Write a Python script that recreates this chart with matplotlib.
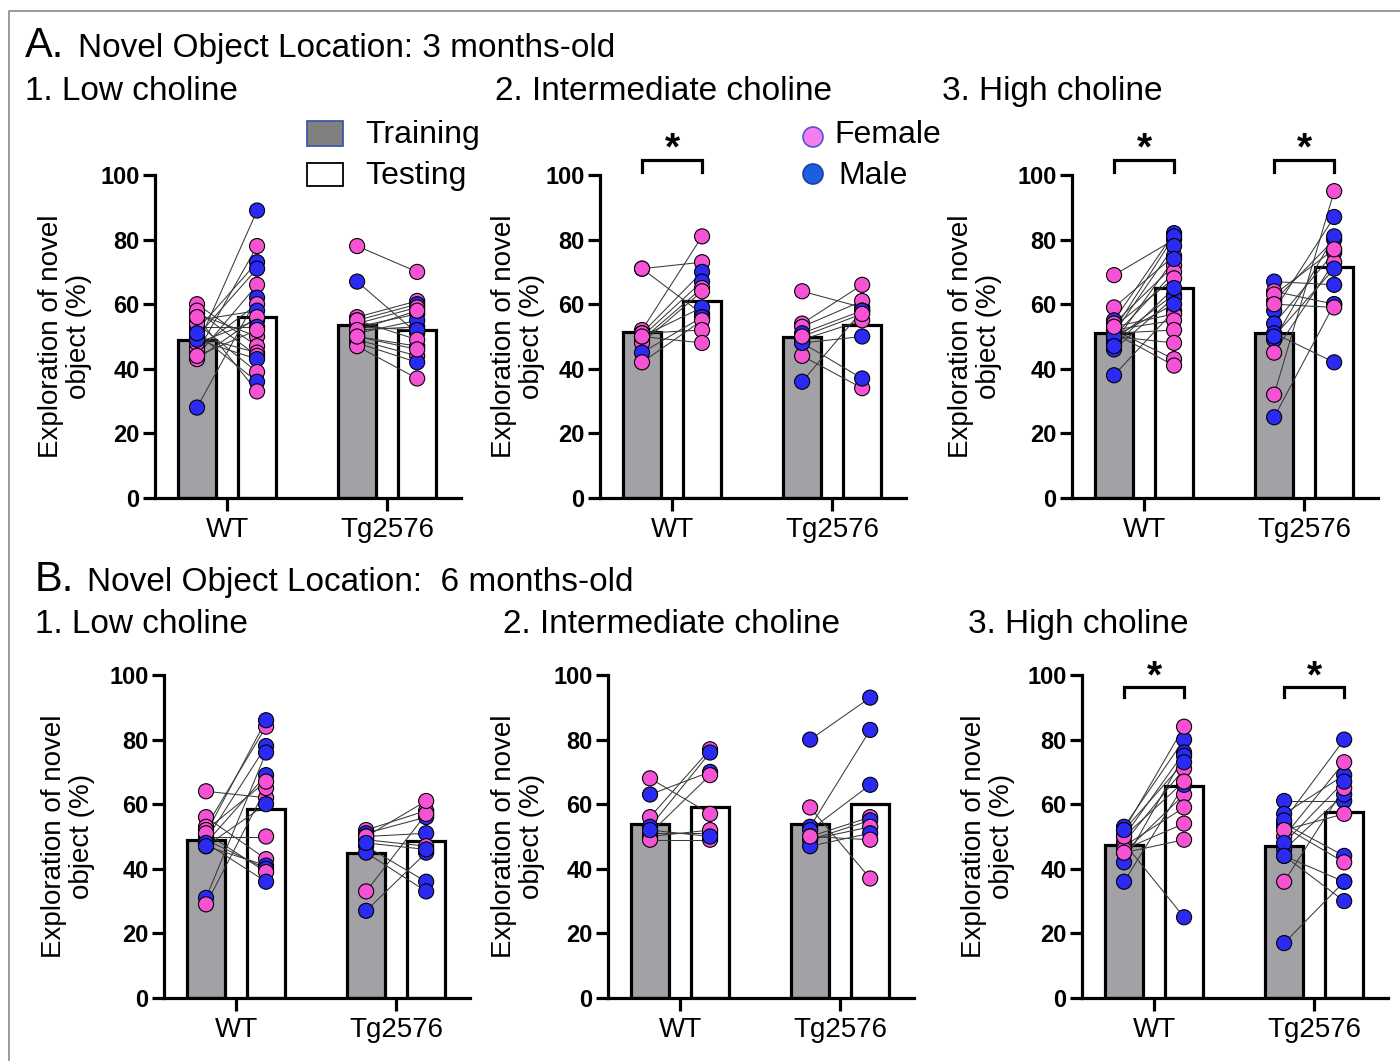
import matplotlib
matplotlib.use("Agg")
import matplotlib.pyplot as plt
from matplotlib.patches import Rectangle, Circle

plt.rcParams['font.family'] = ['Liberation Sans', 'DejaVu Sans']

# ---- data: % exploration of novel object, paired training -> testing ----
groups = ["WT", "Tg2576"]

# bar heights (group means): WT train, WT test, Tg train, Tg test
a1_means = [49, 56, 53.5, 52]
a2_means = [51.5, 61, 49.7, 53.6]
a3_means = [51, 65, 51, 71.5]
b1_means = [49, 58.5, 45, 48.5]
b2_means = [53.8, 59, 53.8, 60]
b3_means = [47.5, 65.5, 47, 57.5]

# A1 - low choline, 3 months
a1_wt_train = [47, 45, 52, 50, 44, 28, 46, 55, 48, 43, 53, 57, 60, 50, 58, 49, 54, 51, 56, 44]
a1_wt_test = [89, 78, 73, 71, 66, 62, 60, 58, 55, 56, 53, 50, 47, 45, 44, 43, 39, 36, 33, 52]
a1_wt_sex = ['M', 'F', 'M', 'M', 'F', 'M', 'F', 'M', 'F', 'F', 'M', 'F', 'F', 'F', 'F', 'M', 'F', 'M', 'F', 'F']
a1_tg_train = [78, 67, 56, 55, 54, 53, 52, 51, 50, 49, 48, 47, 53, 55, 52, 50]
a1_tg_test = [70, 51, 61, 60, 59, 57, 53, 55, 47, 44, 42, 37, 52, 49, 58, 46]
a1_tg_sex = ['F', 'M', 'F', 'M', 'F', 'M', 'F', 'M', 'M', 'F', 'M', 'F', 'M', 'F', 'F', 'F']

# A2 - intermediate choline, 3 months
a2_wt_train = [71, 71, 52, 51, 50, 49, 48, 50, 45, 42, 51, 50]
a2_wt_test = [73, 57, 81, 70, 67, 65, 64, 59, 56, 55, 52, 48]
a2_wt_sex = ['F', 'F', 'F', 'M', 'M', 'F', 'F', 'M', 'M', 'F', 'F', 'F']
a2_tg_train = [64, 54, 53, 51, 49, 48, 44, 36, 48, 50]
a2_tg_test = [59, 66, 61, 58, 55, 50, 34, 58, 37, 57]
a2_tg_sex = ['F', 'F', 'F', 'M', 'F', 'M', 'F', 'M', 'M', 'F']

# A3 - high choline, 3 months
a3_wt_train = [69, 59, 55, 54, 52, 51, 50, 49, 46, 38, 53, 52, 51, 50, 52, 51, 48, 50, 53, 47]
a3_wt_test = [80, 75, 82, 72, 81, 78, 70, 63, 62, 58, 57, 55, 52, 48, 43, 41, 74, 60, 68, 65]
a3_wt_sex = ['F', 'F', 'M', 'F', 'M', 'M', 'F', 'M', 'M', 'M', 'F', 'F', 'F', 'F', 'F', 'F', 'M', 'M', 'F', 'M']
a3_tg_train = [67, 64, 61, 58, 54, 51, 49, 45, 32, 25, 63, 50, 60]
a3_tg_test = [66, 60, 80, 87, 76, 42, 81, 73, 95, 60, 77, 71, 59]
a3_tg_sex = ['M', 'F', 'M', 'M', 'M', 'M', 'M', 'F', 'F', 'M', 'F', 'M', 'F']

# B1 - low choline, 6 months
b1_wt_train = [64, 56, 53, 51, 49, 48, 47, 31, 29, 52, 50, 49, 51, 48, 47]
b1_wt_test = [62, 43, 84, 86, 78, 69, 41, 76, 65, 67, 50, 40, 39, 36, 60]
b1_wt_sex = ['F', 'F', 'F', 'M', 'M', 'M', 'M', 'M', 'F', 'F', 'F', 'M', 'F', 'M', 'M']
b1_tg_train = [52, 51, 50, 49, 47, 45, 33, 27, 50, 48]
b1_tg_test = [58, 56, 51, 47, 36, 33, 57, 45, 61, 46]
b1_tg_sex = ['F', 'M', 'M', 'F', 'M', 'M', 'F', 'M', 'F', 'M']

# B2 - intermediate choline, 6 months
b2_wt_train = [68, 63, 56, 53, 51, 51, 50, 49, 52]
b2_wt_test = [57, 70, 77, 76, 69, 51, 52, 49, 50]
b2_wt_sex = ['F', 'M', 'F', 'M', 'F', 'M', 'F', 'F', 'M']
b2_tg_train = [80, 59, 53, 52, 50, 49, 49, 47, 50]
b2_tg_test = [93, 37, 83, 66, 56, 55, 53, 51, 49]
b2_tg_sex = ['M', 'F', 'M', 'M', 'F', 'M', 'F', 'M', 'F']

# B3 - high choline, 6 months
b3_wt_train = [53, 52, 50, 48, 45, 42, 36, 48, 47, 46, 45, 50, 52]
b3_wt_test = [80, 84, 76, 71, 63, 75, 66, 25, 59, 54, 49, 67, 73]
b3_wt_sex = ['M', 'F', 'M', 'F', 'F', 'M', 'M', 'M', 'F', 'F', 'F', 'F', 'M']
b3_tg_train = [61, 57, 54, 53, 50, 46, 44, 36, 17, 55, 52, 48, 44]
b3_tg_test = [61, 69, 44, 42, 73, 63, 36, 65, 36, 80, 57, 67, 30]
b3_tg_sex = ['M', 'M', 'M', 'F', 'F', 'M', 'M', 'F', 'M', 'M', 'F', 'M', 'M']

# ---- styling ----
PINK = '#F552D4'
BLUE = '#2A2AF2'
BAR_GRAY = '#A2A2A6'
W, H = 1400, 1061

fig = plt.figure(figsize=(W / 100, H / 100), dpi=100)

# overlay in pixel coordinates for headings / legend / frame
bg = fig.add_axes([0, 0, 1, 1])
bg.set_xlim(0, W)
bg.set_ylim(H, 0)
bg.axis('off')
bg.plot([9, 9, W], [H, 11, 11], color='#8a8a8a', lw=1.2)

TS = 24
bg.text(25, 57, "A.", fontsize=30)
bg.text(78, 57, "Novel Object Location: 3 months-old", fontsize=TS)
bg.text(25, 100, "1. Low choline", fontsize=TS)
bg.text(495, 100, "2. Intermediate choline", fontsize=TS)
bg.text(942, 100, "3. High choline", fontsize=TS)
bg.text(35, 591, "B.", fontsize=30)
bg.text(87, 591, "Novel Object Location:  6 months-old", fontsize=TS)
bg.text(35, 633, "1. Low choline", fontsize=TS)
bg.text(503, 633, "2. Intermediate choline", fontsize=TS)
bg.text(968, 633, "3. High choline", fontsize=TS)

# legend
bg.add_patch(Rectangle((307, 121), 36, 25, facecolor='#808080', edgecolor='#3a5aa8', lw=1.3))
bg.add_patch(Rectangle((307, 163), 36, 23, facecolor='white', edgecolor='black', lw=1.3))
bg.text(365, 143, "Training", fontsize=23)
bg.text(365, 184, "Testing", fontsize=23)
bg.add_patch(Circle((813, 137), 10, facecolor='#F47EF0', edgecolor='#4a5ad0', lw=1.2))
bg.add_patch(Circle((813, 174), 10, facecolor='#1A5FE0', edgecolor='#1a3fa0', lw=1.2))
bg.text(834, 143, "Female", fontsize=23)
bg.text(838, 184, "Male", fontsize=23)

panels = [
    # spine x (px), zero y (px), ylabel offset (px), means, wt data, tg data, sig brackets
    (155, 498, -63, a1_means, (a1_wt_train, a1_wt_test, a1_wt_sex), (a1_tg_train, a1_tg_test, a1_tg_sex), []),
    (600, 498, -55, a2_means, (a2_wt_train, a2_wt_test, a2_wt_sex), (a2_tg_train, a2_tg_test, a2_tg_sex), [0]),
    (1072, 498, -70, a3_means, (a3_wt_train, a3_wt_test, a3_wt_sex), (a3_tg_train, a3_tg_test, a3_tg_sex), [0, 1]),
    (164, 998, -69, b1_means, (b1_wt_train, b1_wt_test, b1_wt_sex), (b1_tg_train, b1_tg_test, b1_tg_sex), []),
    (608, 998, -63, b2_means, (b2_wt_train, b2_wt_test, b2_wt_sex), (b2_tg_train, b2_tg_test, b2_tg_sex), []),
    (1082, 998, -67, b3_means, (b3_wt_train, b3_wt_test, b3_wt_sex), (b3_tg_train, b3_tg_test, b3_tg_sex), [0, 1]),
]

AX_W, AX_H = 306, 323
offsets = [0, 8 / 3]   # WT, Tg2576 training-bar positions (1 unit = 60 px)
bar_w = 0.63

for left, zero_y, lab_off, means, wt, tg, sig in panels:
    ax = fig.add_axes([left / W, (H - zero_y) / H, AX_W / W, AX_H / H])
    xpos = [offsets[0], offsets[0] + 1, offsets[1], offsets[1] + 1]
    ax.bar(xpos, means, width=bar_w, color=[BAR_GRAY, 'white', BAR_GRAY, 'white'],
           edgecolor='black', linewidth=2.3, zorder=1)
    for off, (tr, te, sex) in zip(offsets, [wt, tg]):
        for a, b in zip(tr, te):
            ax.plot([off, off + 1], [a, b], color='#3a3a3a', lw=0.75, zorder=2)
        cols = [PINK if s == 'F' else BLUE for s in sex]
        ax.scatter([off] * len(tr), tr, s=118, c=cols, edgecolors='black', linewidths=0.8, zorder=3, clip_on=False)
        ax.scatter([off + 1] * len(te), te, s=118, c=cols, edgecolors='black', linewidths=0.8, zorder=3, clip_on=False)

    top = zero_y < 600
    for g in sig:
        x0, x1 = offsets[g], offsets[g] + 1
        if top:
            yb, yt, ys = 100.9, 104.6, 108.0
        else:
            yb, yt, ys = 93.2, 96.3, 99.3
        ax.plot([x0, x0, x1, x1], [yb, yt, yt, yb], color='black', lw=2.3, clip_on=False,
                solid_joinstyle='miter')
        ax.text((x0 + x1) / 2, ys, "*", ha='center', va='center', fontsize=28, fontweight='bold')

    ax.set_xlim(-0.7, offsets[1] + 1.73)
    ax.set_ylim(0, 100)
    ax.set_yticks(range(0, 101, 20))
    ax.set_xticks([o + 0.5 for o in offsets])
    ax.set_xticklabels(groups, fontsize=20)
    for lbl in ax.get_yticklabels():
        lbl.set_fontsize(17)
        lbl.set_fontweight('bold')
    ax.tick_params(axis='both', width=2.3, length=9, direction='out')
    ax.tick_params(axis='y', pad=2)
    ax.tick_params(axis='x', pad=5)
    for sp in ['top', 'right']:
        ax.spines[sp].set_visible(False)
    for sp in ['left', 'bottom']:
        ax.spines[sp].set_linewidth(2.3)
    ax.patch.set_alpha(0)
    ax.set_ylabel("Exploration of novel\nobject (%)", fontsize=20, linespacing=1.1)
    ax.yaxis.set_label_coords(lab_off / AX_W, 0.5)

fig.savefig("out.png", dpi=100)
